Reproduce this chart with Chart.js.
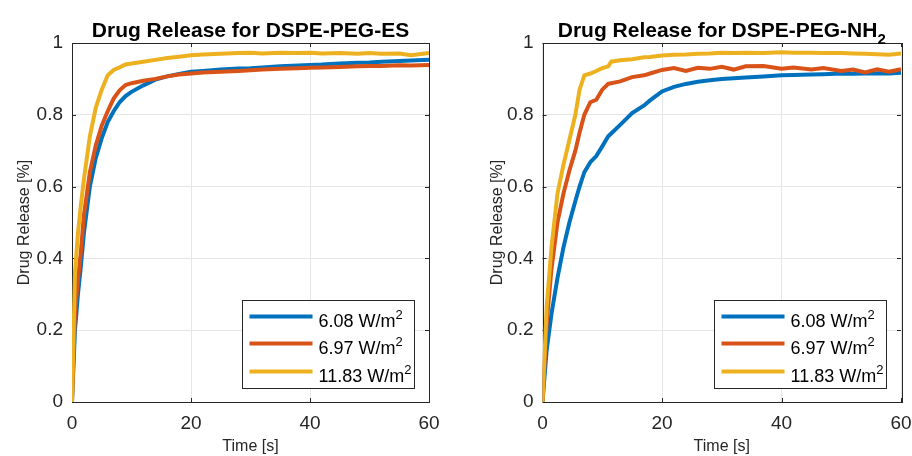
<!DOCTYPE html>
<html><head><meta charset="utf-8">
<script src="https://cdn.jsdelivr.net/npm/chart.js@4"></script>
<style>
html,body{margin:0;padding:0;background:#fff;overflow:hidden;}
.wrap{position:absolute;top:0;width:456px;height:456px;}
</style></head><body>
<div class="wrap" style="left:0"><canvas id="c1"></canvas></div>
<div class="wrap" style="left:456px"><canvas id="c2"></canvas></div>
<script>
// ---------- data ----------
const seriesLabels = ['6.08 W/m²', '6.97 W/m²', '11.83 W/m²'];
const seriesColors = ['#0072BD', '#D95319', '#EDB120'];
const titleES = 'Drug Release for DSPE-PEG-ES';
const titleNH = 'Drug Release for DSPE-PEG-NH₂';
const xAxisLabel = 'Time [s]';
const yAxisLabel = 'Drug Release [%]';
const xTickValues = [0, 20, 40, 60];
const yTickValues = [0, 0.2, 0.4, 0.6, 0.8, 1];

const timeES = [0,0.5,1,1.5,2,3,4,5,6,7,8,9,10,12,14,16,18,20,22,25,28,30,32,35,38,40,42,45,48,50,52,55,57,60];
const es608  = [0,0.2,0.3,0.38,0.47,0.6,0.68,0.735,0.78,0.81,0.835,0.852,0.864,0.882,0.898,0.907,0.914,0.92,0.922,0.926,0.929,0.93,0.932,0.935,0.937,0.939,0.94,0.943,0.945,0.946,0.948,0.95,0.951,0.953];
const es697  = [0,0.25,0.34,0.42,0.52,0.64,0.715,0.77,0.81,0.845,0.868,0.883,0.888,0.895,0.9,0.907,0.912,0.915,0.918,0.92,0.922,0.924,0.926,0.928,0.93,0.931,0.932,0.933,0.935,0.936,0.936,0.938,0.937,0.939];
const es1183 = [0,0.36,0.47,0.55,0.62,0.74,0.82,0.87,0.91,0.925,0.932,0.94,0.943,0.948,0.953,0.958,0.962,0.966,0.968,0.97,0.972,0.973,0.971,0.973,0.972,0.973,0.971,0.972,0.97,0.972,0.97,0.971,0.966,0.972];

const timeNH = [0,0.7,1.5,2.5,3.5,4.5,5.5,6.2,7,8,9,10,11,11.5,13,15,17,18,20,22,24,26,28,30,32,34,37,40,42,45,47,50,52,54,56,58,60];
const nh608  = [0,0.145,0.245,0.345,0.43,0.5,0.56,0.6,0.64,0.668,0.685,0.712,0.74,0.748,0.772,0.805,0.826,0.84,0.865,0.878,0.886,0.892,0.896,0.9,0.902,0.904,0.907,0.91,0.911,0.912,0.913,0.915,0.914,0.915,0.916,0.915,0.917];
const nh697  = [0,0.22,0.37,0.5,0.58,0.645,0.7,0.75,0.8,0.835,0.842,0.87,0.886,0.888,0.893,0.905,0.91,0.915,0.925,0.93,0.922,0.931,0.928,0.934,0.926,0.935,0.936,0.928,0.932,0.926,0.93,0.922,0.926,0.918,0.927,0.92,0.927];
const nh1183 = [0,0.265,0.43,0.58,0.66,0.73,0.8,0.87,0.91,0.915,0.922,0.93,0.935,0.948,0.952,0.955,0.96,0.961,0.965,0.967,0.968,0.97,0.971,0.973,0.972,0.973,0.972,0.974,0.973,0.973,0.972,0.972,0.971,0.97,0.969,0.967,0.971];

// ---------- helpers ----------
const FONT = '"Liberation Sans", Arial, Helvetica, sans-serif';
const AXIS_COLOR = '#262626';
const GRID_COLOR = '#e5e5e5';

function pts(t, v) { return t.map((x, i) => ({ x: x, y: v[i] })); }

function makeDatasets(t, series) {
  return series.map((v, i) => ({
    label: seriesLabels[i],
    data: pts(t, v),
    borderColor: seriesColors[i],
    backgroundColor: seriesColors[i],
    borderWidth: 4,
    pointRadius: 0,
    tension: 0,
    fill: false,
    order: series.length - 1 - i
  }));
}

// draws text where ² is superscript and ₂ is subscript
function drawRich(ctx, text, x, y, size, weight, align) {
  const parts = [];
  for (const ch of text) {
    if (ch === '²') parts.push({ t: '2', s: Math.round(size * 0.7), dy: -size * 0.42 });
    else if (ch === '₂') parts.push({ t: '2', s: Math.round(size * 0.72), dy: size * 0.33 });
    else {
      const last = parts[parts.length - 1];
      if (last && last.dy === 0) last.t += ch; else parts.push({ t: ch, s: size, dy: 0 });
    }
  }
  let total = 0;
  parts.forEach(p => { ctx.font = weight + ' ' + p.s + 'px ' + FONT; p.w = ctx.measureText(p.t).width; total += p.w; });
  let cx = align === 'center' ? x - total / 2 : x;
  ctx.textAlign = 'left';
  ctx.textBaseline = 'alphabetic';
  parts.forEach(p => { ctx.font = weight + ' ' + p.s + 'px ' + FONT; ctx.fillText(p.t, cx, y + p.dy); cx += p.w; });
}

const matlabPlugin = {
  id: 'matlabLook',
  beforeDatasetsDraw(chart) {
    const { ctx, chartArea: a, scales } = chart;
    ctx.save();
    ctx.strokeStyle = AXIS_COLOR;
    ctx.lineWidth = 1;
    const L = 4;
    ctx.beginPath();
    scales.x.ticks.forEach(tk => {
      const px = Math.round(scales.x.getPixelForValue(tk.value)) + 0.5;
      ctx.moveTo(px, a.bottom); ctx.lineTo(px, a.bottom - L);
      ctx.moveTo(px, a.top); ctx.lineTo(px, a.top + L);
    });
    scales.y.ticks.forEach(tk => {
      const py = Math.round(scales.y.getPixelForValue(tk.value)) + 0.5;
      ctx.moveTo(a.left, py); ctx.lineTo(a.left + L, py);
      ctx.moveTo(a.right, py); ctx.lineTo(a.right - L, py);
    });
    ctx.stroke();
    ctx.strokeRect(Math.round(a.left) + 0.5, Math.round(a.top) + 0.5, Math.round(a.right - a.left), Math.round(a.bottom - a.top));
    ctx.restore();
  },
  afterDatasetsDraw(chart) {
    const { ctx, chartArea: a } = chart;
    const w = 172, h = 88;
    const bx = Math.round(a.right - 15 - w) + 0.5, by = Math.round(a.bottom - 14 - h) + 0.5;
    ctx.save();
    ctx.fillStyle = '#fff';
    ctx.fillRect(bx, by, w, h);
    ctx.strokeStyle = AXIS_COLOR;
    ctx.lineWidth = 1;
    ctx.strokeRect(bx, by, w, h);
    const rows = [16, 43, 71];
    chart.data.datasets.forEach((ds, i) => {
      const ry = by + rows[i];
      ctx.strokeStyle = ds.borderColor;
      ctx.lineWidth = 4;
      ctx.beginPath();
      ctx.moveTo(bx + 7, ry); ctx.lineTo(bx + 70, ry);
      ctx.stroke();
      ctx.fillStyle = '#000';
      drawRich(ctx, ds.label, bx + 76, ry + 10, 18, 'normal', 'left');
    });
    ctx.restore();
  },
  afterDraw(chart) {
    const { ctx, chartArea: a } = chart;
    ctx.save();
    ctx.fillStyle = '#000';
    drawRich(ctx, chart.options.plugins.matlabLook.title, (a.left + a.right) / 2, 37, 21, 'bold', 'center');
    ctx.restore();
  }
};

function makeChart(id, title, t, series, pad, yWidth) {
  return new Chart(document.getElementById(id), {
    type: 'line',
    data: { datasets: makeDatasets(t, series) },
    plugins: [matlabPlugin],
    options: {
      responsive: true,
      maintainAspectRatio: false,
      animation: false,
      layout: { padding: pad },
      plugins: {
        legend: { display: false },
        tooltip: { enabled: false },
        title: { display: false },
        matlabLook: { title: title }
      },
      scales: {
        x: {
          type: 'linear', min: 0, max: 60,
          afterBuildTicks(s) { s.ticks = xTickValues.map(v => ({ value: v })); },
          afterFit(s) { s.height = 54; s.paddingLeft = 0; s.paddingRight = 0; },
          grid: { color: GRID_COLOR, drawTicks: false },
          border: { display: false },
          ticks: { color: AXIS_COLOR, padding: 10, font: { family: FONT, size: 19 }, maxRotation: 0, autoSkip: false },
          title: { display: true, text: xAxisLabel, color: AXIS_COLOR, font: { family: FONT, size: 16, lineHeight: 1 }, padding: { top: 0, bottom: 1 } }
        },
        y: {
          type: 'linear', min: 0, max: 1,
          afterBuildTicks(s) { s.ticks = yTickValues.map(v => ({ value: v })); },
          afterFit(s) { s.width = yWidth; s.paddingTop = 0; s.paddingBottom = 0; },
          grid: { color: GRID_COLOR, drawTicks: false },
          border: { display: false },
          ticks: { color: AXIS_COLOR, padding: 9, font: { family: FONT, size: 19 }, autoSkip: false,
                   callback: v => String(Number(v.toFixed(1))) },
          title: { display: true, text: yAxisLabel, color: AXIS_COLOR, font: { family: FONT, size: 16 }, padding: { top: 15, bottom: 0 } }
        }
      }
    }
  });
}

makeChart('c1', titleES, timeES, [es608, es697, es1183], { top: 43, right: 27, left: 0, bottom: 0 }, 72);
makeChart('c2', titleNH, timeNH, [nh608, nh697, nh1183], { top: 43, right: 11, left: 17, bottom: 0 }, 69.5);
</script>
</body></html>
